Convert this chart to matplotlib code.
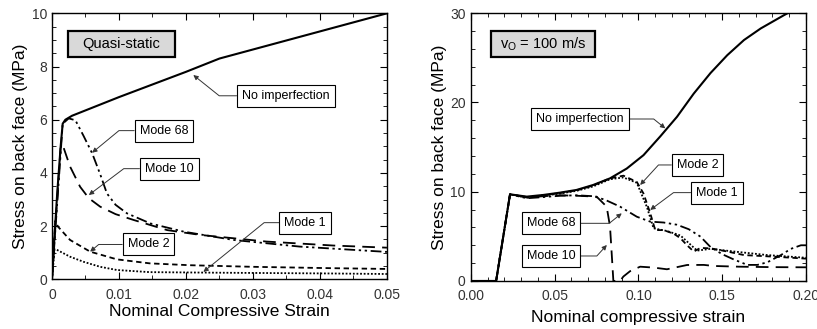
import numpy as np
import matplotlib
matplotlib.use('Agg')
import matplotlib.pyplot as plt
from matplotlib.patches import Rectangle
from matplotlib.ticker import MultipleLocator, FixedFormatter, FixedLocator

plt.rcParams['font.family'] = ['Liberation Sans', 'DejaVu Sans']
plt.rcParams['mathtext.fontset'] = 'custom'
plt.rcParams['mathtext.rm'] = 'Liberation Sans'

# quasi-static panel (strain, stress MPa)
qs_noimp_x = [0, 0.0003, 0.0008, 0.0013, 0.0016, 0.002, 0.003, 0.01, 0.02, 0.025, 0.03, 0.04, 0.05]
qs_noimp_y = [0, 1.3, 3.3, 5.0, 5.85, 6.0, 6.15, 6.85, 7.8, 8.3, 8.64, 9.32, 10.0]
qs_m68_x = [0, 0.0016, 0.0025, 0.0035, 0.0047, 0.006, 0.0072, 0.0082, 0.0095, 0.0112,
            0.0147, 0.0197, 0.0271, 0.037, 0.05]
qs_m68_y = [0, 5.85, 6.05, 5.98, 5.4, 4.74, 3.95, 3.23, 2.8, 2.48, 2.1, 1.79, 1.48, 1.23, 1.03]
qs_m10_x = [0, 0.0013, 0.0016, 0.0027, 0.0042, 0.0055, 0.0072, 0.0095, 0.0122, 0.0172,
            0.0221, 0.032, 0.042, 0.05]
qs_m10_y = [0, 5.0, 5.05, 4.24, 3.48, 3.05, 2.73, 2.45, 2.23, 1.85, 1.67, 1.42, 1.27, 1.19]
qs_m2_x = [0, 0.0005, 0.0009, 0.0027, 0.0057, 0.0097, 0.0146, 0.0206, 0.03, 0.0415, 0.05]
qs_m2_y = [0, 2.2, 1.98, 1.48, 1.04, 0.75, 0.6, 0.53, 0.47, 0.42, 0.39]
qs_m1_x = [0, 0.0004, 0.0008, 0.0027, 0.0047, 0.0072, 0.0097, 0.0146, 0.024, 0.0415, 0.05]
qs_m1_y = [0, 1.13, 1.1, 0.85, 0.66, 0.47, 0.35, 0.27, 0.25, 0.22, 0.2]

# v0 = 100 m/s panel
dy_noimp_x = [0, 0.015, 0.0233, 0.0333, 0.0432, 0.0532, 0.063, 0.073, 0.083, 0.093, 0.103,
              0.113, 0.123, 0.133, 0.143, 0.153, 0.163, 0.173, 0.187, 0.19]
dy_noimp_y = [0, 0, 9.71, 9.45, 9.64, 9.9, 10.2, 10.76, 11.5, 12.6, 14.1,
              16.2, 18.4, 21.0, 23.3, 25.3, 27.0, 28.3, 29.8, 30.1]
dy_m2_x = [0, 0.015, 0.0233, 0.0333, 0.0432, 0.0532, 0.063, 0.073, 0.083, 0.091, 0.099, 0.103,
           0.107, 0.11, 0.115, 0.121, 0.125, 0.129, 0.133, 0.137, 0.143, 0.153, 0.163, 0.173,
           0.183, 0.2]
dy_m2_y = [0, 0, 9.71, 9.4, 9.6, 9.85, 10.15, 10.7, 11.5, 11.8, 11.1, 9.8,
           7.6, 5.7, 5.7, 5.3, 4.8, 4.0, 3.3, 3.7, 3.66, 3.3, 2.9, 2.8,
           2.7, 2.5]
dy_m1_x = [0, 0.015, 0.0233, 0.0333, 0.0432, 0.0532, 0.063, 0.073, 0.083, 0.091, 0.099, 0.105,
           0.109, 0.117, 0.125, 0.135, 0.143, 0.157, 0.177, 0.2]
dy_m1_y = [0, 0, 9.71, 9.35, 9.55, 9.8, 10.1, 10.6, 11.4, 11.6, 11.0, 8.3,
           5.9, 5.6, 5.1, 3.4, 3.6, 3.3, 2.9, 2.6]
dy_m68_x = [0, 0.015, 0.0233, 0.0333, 0.0432, 0.0532, 0.063, 0.073, 0.08, 0.089, 0.099, 0.107,
            0.115, 0.123, 0.13, 0.137, 0.143, 0.15, 0.157, 0.165, 0.171, 0.177, 0.185, 0.191,
            0.197, 0.2]
dy_m68_y = [0, 0, 9.71, 9.27, 9.4, 9.55, 9.6, 9.5, 9.1, 8.33, 7.2, 6.65,
            6.55, 6.3, 5.8, 4.97, 3.8, 3.0, 2.4, 1.8, 1.8, 2.1, 2.9, 3.6,
            4.0, 4.0]
dy_m10_x = [0, 0.015, 0.0233, 0.0333, 0.0432, 0.0532, 0.063, 0.075, 0.081, 0.083, 0.084, 0.085,
            0.089, 0.091, 0.095, 0.101, 0.109, 0.117, 0.129, 0.139, 0.145, 0.16, 0.18, 0.2]
dy_m10_y = [0, 0, 9.71, 9.35, 9.5, 9.6, 9.55, 9.45, 8.33, 6.1, 3.1, 0,
            0, 0.5, 1.1, 1.6, 1.5, 1.31, 1.79, 1.8, 1.68, 1.6, 1.55, 1.53]

qs_xticks = [0, 0.01, 0.02, 0.03, 0.04, 0.05]
qs_xticklabels = ['0', '0.01', '0.02', '0.03', '0.04', '0.05']
dy_xticks = [0, 0.05, 0.10, 0.15, 0.20]
dy_xticklabels = ['0.00', '0.05', '0.10', '0.15', '0.20']

ls_m68 = (0, (6, 2, 1.3, 2, 1.3, 2))
ls_m10 = (0, (7, 4))
ls_m2 = (0, (3, 2))
ls_m1 = (0, (1, 1))


def style_axes(ax, ypad):
  ax.tick_params(which='both', direction='in', top=True, right=True,
                 labelsize=10, labelcolor='#333333')
  ax.tick_params(which='major', length=5)
  ax.tick_params(which='minor', length=3)
  ax.tick_params(axis='x', which='major', pad=6)
  ax.tick_params(axis='y', which='major', pad=ypad)
  for s in ax.spines.values():
    s.set_linewidth(1.0)


def label(ax, text, xy, xytext, angle):
  ax.annotate(text, xy=xy, xytext=xytext, fontsize=9, ha='center', va='center',
              bbox=dict(boxstyle='square,pad=0.4', fc='white', ec='black', lw=0.8),
              arrowprops=dict(arrowstyle='-|>', color='#333333', lw=0.7,
                              mutation_scale=7, shrinkA=0, shrinkB=0,
                              connectionstyle='angle,angleA=0,angleB=%g,rad=0' % angle))


def title_box(ax, text, x0, x1):
  ax.add_patch(Rectangle((x0, 0.836), x1 - x0, 0.097, transform=ax.transAxes,
                         fc='#d9d9d9', ec='black', lw=1.6, zorder=5))
  ax.text((x0 + x1) / 2, 0.884, text, transform=ax.transAxes, fontsize=10.5,
          ha='center', va='center', zorder=6)


fig = plt.figure(figsize=(8.17, 3.29), dpi=100)

# ---- quasi-static
ax1 = fig.add_axes([0.0636, 0.151, 0.41, 0.8085])
ax1.plot(qs_noimp_x, qs_noimp_y, color='black', lw=1.5)
ax1.plot(qs_m68_x, qs_m68_y, color='black', lw=1.3, ls=ls_m68)
ax1.plot(qs_m10_x, qs_m10_y, color='black', lw=1.3, ls=ls_m10)
ax1.plot(qs_m2_x, qs_m2_y, color='black', lw=1.3, ls=ls_m2)
ax1.plot(qs_m1_x, qs_m1_y, color='black', lw=1.3, ls=ls_m1)
ax1.set_xlim(0, 0.05)
ax1.set_ylim(0, 10)
ax1.xaxis.set_major_locator(FixedLocator(qs_xticks))
ax1.xaxis.set_major_formatter(FixedFormatter(qs_xticklabels))
ax1.xaxis.set_minor_locator(MultipleLocator(0.005))
ax1.yaxis.set_major_locator(MultipleLocator(2))
ax1.yaxis.set_minor_locator(MultipleLocator(0.5))
style_axes(ax1, 3.5)
ax1.set_xlabel('Nominal Compressive Strain', fontsize=12.5, labelpad=2)
ax1.set_ylabel('Stress on back face (MPa)', fontsize=12.5, labelpad=3)
title_box(ax1, 'Quasi-static', 0.048, 0.367)

label(ax1, 'No imperfection', (0.0211, 7.68), (0.0349, 6.9), -38.7)
label(ax1, 'Mode 68', (0.006, 4.76), (0.0167, 5.59), 39.5)
label(ax1, 'Mode 10', (0.0055, 3.17), (0.0175, 4.16), 37)
label(ax1, 'Mode 2', (0.0057, 1.04), (0.0144, 1.31), 40)
label(ax1, 'Mode 1', (0.0226, 0.28), (0.0378, 2.13), 39)

# ---- dynamic
ax2 = fig.add_axes([0.5765, 0.146, 0.41, 0.8137])
ax2.plot(dy_noimp_x, dy_noimp_y, color='black', lw=1.5)
ax2.plot(dy_m2_x, dy_m2_y, color='black', lw=1.3, ls=ls_m2)
ax2.plot(dy_m1_x, dy_m1_y, color='black', lw=1.3, ls=ls_m1)
ax2.plot(dy_m68_x, dy_m68_y, color='black', lw=1.3, ls=ls_m68)
ax2.plot(dy_m10_x, dy_m10_y, color='black', lw=1.3, ls=ls_m10)
ax2.set_xlim(0, 0.2)
ax2.set_ylim(0, 30)
ax2.xaxis.set_major_locator(FixedLocator(dy_xticks))
ax2.xaxis.set_major_formatter(FixedFormatter(dy_xticklabels))
ax2.xaxis.set_minor_locator(MultipleLocator(0.01))
ax2.yaxis.set_major_locator(MultipleLocator(10))
ax2.yaxis.set_minor_locator(MultipleLocator(2))
style_axes(ax2, 4)
ax2.set_xlabel('Nominal compressive strain', fontsize=12.5, labelpad=5)
ax2.set_ylabel('Stress on back face (MPa)', fontsize=12.5, labelpad=2)
title_box(ax2, r'v$_\mathrm{O}$ = 100 m/s', 0.06, 0.37)

label(ax2, 'No imperfection', (0.116, 17.1), (0.0651, 18.15), -39)
label(ax2, 'Mode 2', (0.101, 10.76), (0.1353, 13.0), 47.5)
label(ax2, 'Mode 1', (0.107, 7.96), (0.1468, 9.9), 36.6)
label(ax2, 'Mode 68', (0.090, 7.58), (0.0478, 6.46), 38.7)
label(ax2, 'Mode 10', (0.0811, 4.03), (0.0478, 2.8), 47.7)

fig.savefig('out.png', dpi=100)
